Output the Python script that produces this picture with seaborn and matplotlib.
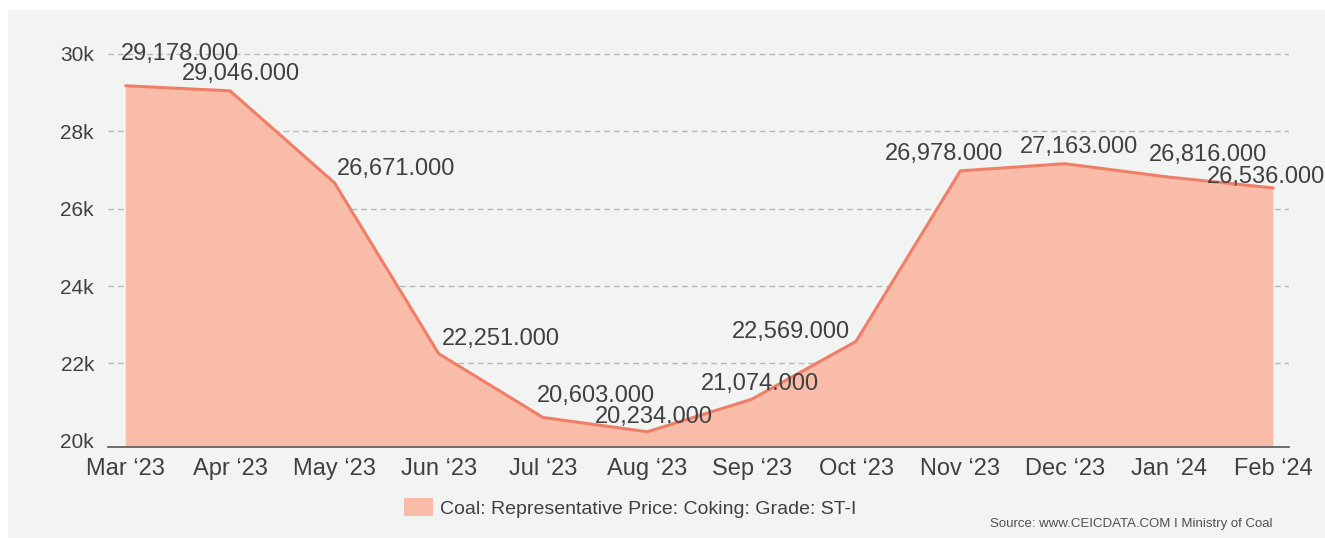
import matplotlib
matplotlib.use("Agg")
import matplotlib.pyplot as plt
import matplotlib.patches as mpatches
import seaborn as sns
import pandas as pd

# Monthly coking coal price, grade ST-I
months = ["Mar \u201823", "Apr \u201823", "May \u201823", "Jun \u201823", "Jul \u201823", "Aug \u201823",
          "Sep \u201823", "Oct \u201823", "Nov \u201823", "Dec \u201823", "Jan \u201824", "Feb \u201824"]
prices = [29178, 29046, 26671, 22251, 20603, 20234, 21074, 22569, 26978, 27163, 26816, 26536]
y_ticks = [20000, 22000, 24000, 26000, 28000, 30000]
y_tick_labels = ["20k", "22k", "24k", "26k", "28k", "30k"]
series_name = "Coal: Representative Price: Coking: Grade: ST-I"
source_text = "Source: www.CEICDATA.COM I Ministry of Coal"

# value-label offsets (pixels) so neighbouring labels do not collide
label_dx = [54, 11, 62, 62, 53, 6, 8, -65, -16, 14, 39, -7]
label_dy = [32, 17, 14, 15, 21, 15, 15, 9, 17, 17, 22, 11]

BG = "#f2f3f3"
FILL = "#f9bca9"
LINE = "#f07e67"
TEXT = "#404040"

sns.set_theme(style="white")
plt.rcParams["font.family"] = ["Liberation Sans", "DejaVu Sans"]

df = pd.DataFrame({"idx": range(len(months)), "month": months, "price": prices})

fig = plt.figure(figsize=(13.25, 5.38), dpi=100)
fig.patch.set_facecolor("white")
fig.patches.append(mpatches.Rectangle((8 / 1325, 0), 1 - 8 / 1325, 1 - 10 / 538,
                                      transform=fig.transFigure, facecolor=BG,
                                      edgecolor="none", zorder=-10))

ax = fig.add_axes([108 / 1325, 1 - 447 / 538, (1289 - 108) / 1325, (447 - 52) / 538])
ax.set_facecolor(BG)

ax.fill_between(df["idx"], prices, 0, color=FILL, linewidth=0, zorder=2)
sns.lineplot(data=df, x="idx", y="price", ax=ax, color=LINE, linewidth=2.2, zorder=3)

for i, v in enumerate(prices):
    ax.annotate(f"{v:,.3f}", (i, v), xytext=(label_dx[i], label_dy[i]),
                textcoords="offset pixels", ha="center", va="center",
                fontsize=17, color=TEXT, zorder=5, annotation_clip=False)

ax.set_xlim(-0.17, 11.15)
ax.set_ylim(19840, 30050)
ax.set_xticks(range(len(months)))
ax.set_xticklabels(months, fontsize=17, color=TEXT)
ax.set_yticks(y_ticks)
ax.set_yticklabels(y_tick_labels, fontsize=15, color=TEXT)
ax.tick_params(axis="both", length=0)
ax.tick_params(axis="x", pad=8)
ax.tick_params(axis="y", pad=10)
ax.set_xlabel("")
ax.set_ylabel("")

ax.yaxis.grid(True, color="#b5b7b8", linestyle=(0, (4, 3)), linewidth=1)
ax.set_axisbelow(True)
# the baseline spine stands in for the lowest gridline
ax.yaxis.get_gridlines()[0].set_visible(False)
for s in ["top", "right", "left"]:
    ax.spines[s].set_visible(False)
ax.spines["bottom"].set_color("#555555")
ax.spines["bottom"].set_linewidth(1.2)
ax.spines["bottom"].set_zorder(4)

handle = mpatches.Patch(facecolor=FILL, edgecolor="none", label=series_name)
fig.legend(handles=[handle], loc="center", bbox_to_anchor=(630 / 1325, 1 - 508 / 538),
           frameon=False, fontsize=14, labelcolor=TEXT, handlelength=1.5,
           handleheight=1.0, handletextpad=0.35)

fig.text(1272 / 1325, 1 - 524 / 538, source_text, ha="right", va="center",
         fontsize=9.5, color="#505050")

fig.savefig("out.png", dpi=100, facecolor=fig.get_facecolor())
